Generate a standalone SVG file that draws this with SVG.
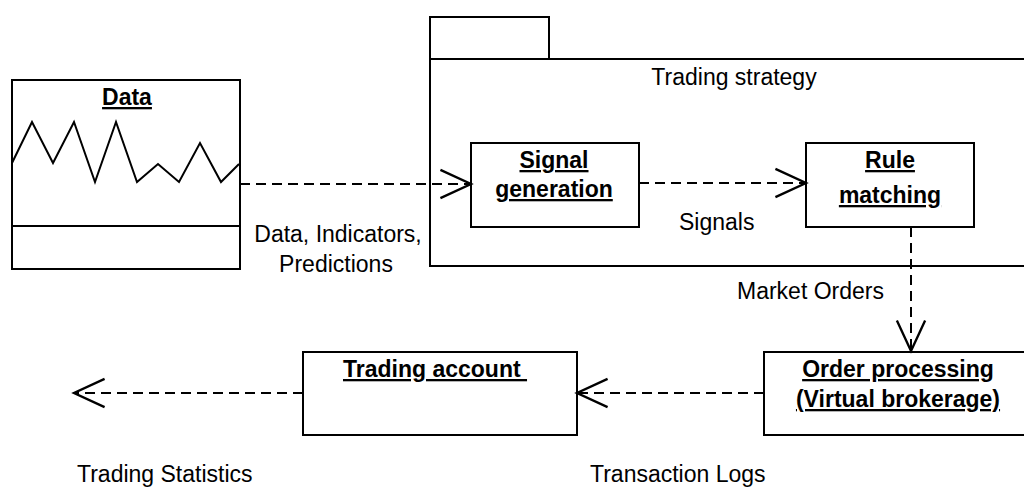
<svg xmlns="http://www.w3.org/2000/svg" width="1024" height="487" viewBox="0 0 1024 487">
  <style>
    .box { fill: #fff; stroke: #000; stroke-width: 2; }
    .ln { fill: none; stroke: #000; stroke-width: 2; }
    .dash { fill: none; stroke: #000; stroke-width: 2; stroke-dasharray: 10 6; marker-end: url(#open); }
    .t { font-family: "Liberation Sans", Arial, sans-serif; font-size: 23px; fill: #000; }
    .b { font-family: "Liberation Sans", Arial, sans-serif; font-size: 23px; font-weight: bold; fill: #000; text-decoration: underline; }
  </style>
  <defs>
    <marker id="open" markerUnits="userSpaceOnUse" markerWidth="40" markerHeight="40" viewBox="-30 -15 34 30" refX="0" refY="0" orient="auto">
      <path d="M -26 -12 L 0 0 L -26 12" fill="none" stroke="#000" stroke-width="2"/>
    </marker>
  </defs>
  <rect width="1024" height="487" fill="#fff"/>

  <g id="data">
    <rect class="box" x="12" y="80" width="228" height="189"/>
    <line class="ln" x1="12" y1="226" x2="240" y2="226"/>
    <polyline class="ln" points="12,163 32,122 53,163 74,122 95,182 116,122 137,182 158,164 179,182 200,143 221,182 239,164"/>
    <text class="b" x="127" y="105" text-anchor="middle">Data</text>
  </g>

  <g id="trading-strategy">
    <rect class="box" x="430" y="17" width="119" height="42"/>
    <rect class="box" x="430" y="59" width="620" height="207"/>
    <text class="t" x="734" y="85" text-anchor="middle">Trading strategy</text>
  </g>

  <g id="signal-generation">
    <rect class="box" x="471" y="143" width="168" height="84"/>
    <text class="b" x="554" y="168" text-anchor="middle">Signal</text>
    <text class="b" x="554" y="197" text-anchor="middle">generation</text>
  </g>

  <g id="rule-matching">
    <rect class="box" x="806" y="143" width="168" height="84"/>
    <text class="b" x="890" y="168" text-anchor="middle">Rule</text>
    <text class="b" x="890" y="203" text-anchor="middle">matching</text>
  </g>

  <g id="order-processing">
    <rect class="box" x="764" y="352" width="300" height="83"/>
    <text class="b" x="898" y="377" text-anchor="middle">Order processing</text>
    <text class="b" x="898" y="407" text-anchor="middle">(Virtual brokerage)</text>
  </g>

  <g id="trading-account">
    <rect class="box" x="303" y="352" width="274" height="83"/>
    <text class="b" x="343" y="377" xml:space="preserve">Trading account </text>
  </g>

  <g id="connectors">
    <line class="dash" x1="240" y1="184" x2="471" y2="184"/>
    <line class="dash" x1="639" y1="183" x2="806" y2="183"/>
    <line class="dash" x1="911" y1="227" x2="911" y2="351"/>
    <line class="dash" x1="764" y1="393" x2="577" y2="393"/>
    <line class="dash" x1="303" y1="393" x2="74" y2="393"/>
  </g>

  <g id="labels">
    <text class="t" x="338" y="242" text-anchor="middle">Data, Indicators,</text>
    <text class="t" x="336" y="272" text-anchor="middle">Predictions</text>
    <text class="t" x="679" y="230">Signals</text>
    <text class="t" x="737" y="299">Market Orders</text>
    <text class="t" x="77" y="482">Trading Statistics</text>
    <text class="t" x="590" y="482">Transaction Logs</text>
  </g>
</svg>
